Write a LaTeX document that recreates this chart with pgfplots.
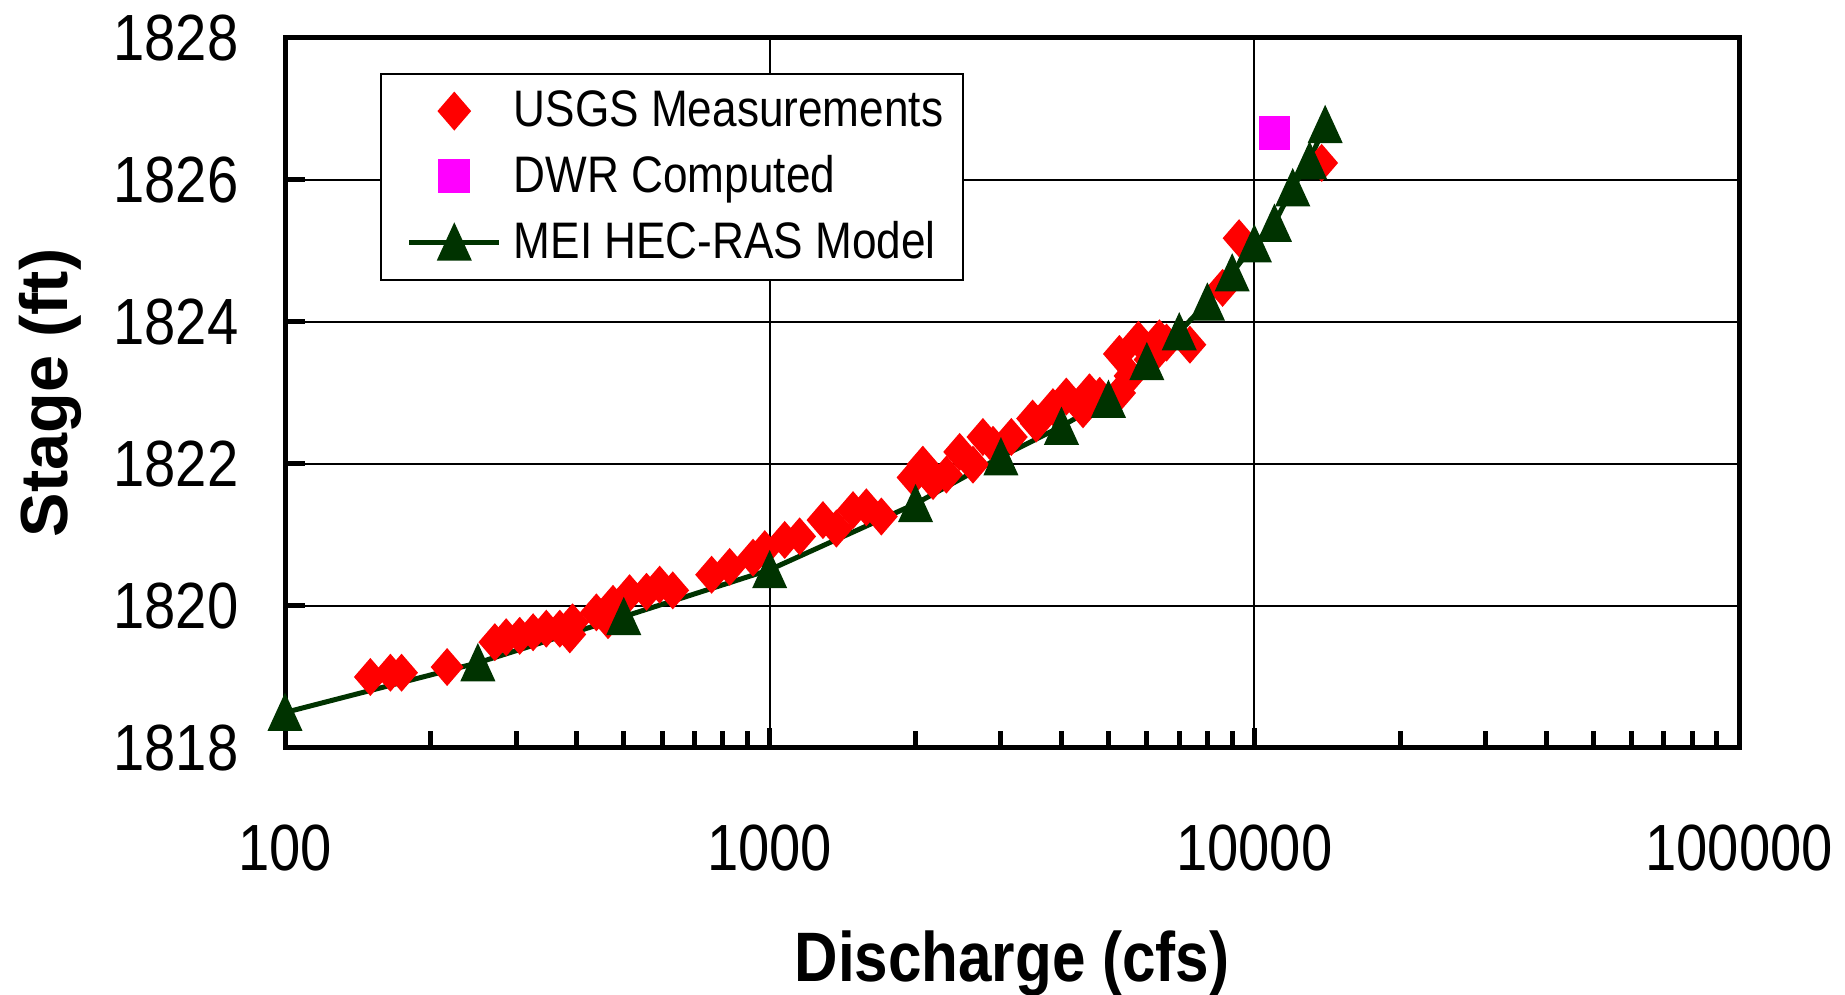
\documentclass[border=0pt]{standalone}
\usepackage{fontspec}
\setmainfont{Liberation Sans}[FakeStretch=0.86]
\newfontfamily\ylabfont{Liberation Sans}
\usepackage{pgfplots}
\pgfplotsset{compat=1.18}
\definecolor{dkgreen}{RGB}{0,51,0}
\definecolor{mag}{RGB}{255,0,255}
\newcommand\tickfont{\fontsize{19.6}{23}\selectfont}
\newcommand\legfont{\fontsize{15.4}{18}\selectfont}
\begin{document}
\begin{tikzpicture}
\path[use as bounding box] (-85.5pt,-74.1pt) rectangle (468pt,224.4pt);
\begin{axis}[
  at={(0,0)}, anchor=south west,
  scale only axis, width=436.2pt, height=213pt,
  xmode=log, log basis x=10,
  xmin=100, xmax=100000, ymin=1818, ymax=1828,
  xtick={100,1000,10000,100000}, xticklabels={100,1000,10000,100000},
  minor xtick={200,300,400,500,600,700,800,900,2000,3000,4000,5000,6000,7000,8000,9000,20000,30000,40000,50000,60000,70000,80000,90000},
  ytick={1818,1820,1822,1824,1826,1828}, yticklabels={1818,1820,1822,1824,1826,1828},
  tick pos=left,
  grid=major, major grid style={black, line width=0.6pt},
  axis line style={black, line width=1.5pt},
  tick align=inside, major tick length=6pt, minor tick length=5pt,
  every tick/.style={black, line width=1.5pt},
  xticklabel style={font=\tickfont, anchor=north, inner sep=0pt, yshift=-22.8pt},
  yticklabel style={font=\tickfont, anchor=east, inner sep=0pt, xshift=-13.8pt},
  xlabel={\bfseries\fontsize{21}{25}\selectfont Discharge (cfs)},
  xlabel style={at={([yshift=-70.2pt]axis description cs:0.5,0)}, anchor=base, inner sep=0pt},
  ylabel={\ylabfont\bfseries\fontsize{20}{24}\selectfont Stage (ft)},
  ylabel style={at={([xshift=-65.4pt]axis description cs:0,0.5)}, anchor=base, inner sep=0pt},
  clip=false,
  legend style={at={(0.0653,0.9507)}, anchor=north west, draw=black, line width=0.6pt, fill=white,
    inner xsep=6pt, inner ysep=5pt, row sep=7.1pt, column sep=3.6pt, font=\legfont,
    nodes={inner sep=0pt}},
  legend cell align=left,
  legend image code/.code={\path[draw=none,fill=none] (0pt,0pt) (2.5pt,0pt);
    \draw[mark repeat=2,mark phase=2] plot coordinates {(2.5pt,0pt) (16pt,0pt) (29.5pt,0pt)};},
]
\addplot[only marks, mark=diamond*, mark size=5.4pt, mark options={xscale=1.15, fill=red, draw=red}] coordinates {
(150,1819.00) (165,1819.06) (174,1819.06) (216,1819.14) (271,1819.49) (286,1819.56)
(305,1819.58) (325,1819.63) (346,1819.68) (369,1819.68) (387,1819.60) (392,1819.77)
(439,1819.91) (464,1819.80) (475,1820.03) (514,1820.18) (557,1820.20) (593,1820.30)
(631,1820.22) (759,1820.44) (827,1820.55) (924,1820.68) (977,1820.80) (1074,1820.93)
(1153,1820.98) (1288,1821.21) (1373,1821.09) (1486,1821.35) (1583,1821.39) (1700,1821.26)
(1976,1821.81) (2070,1821.99) (2173,1821.76) (2315,1821.85) (2466,1822.17) (2627,1821.99)
(2754,1822.38) (2890,1822.27) (3152,1822.38) (3487,1822.64) (3548,1822.57) (3842,1822.80)
(4093,1822.95) (4431,1822.77) (4570,1823.01) (4797,1822.96) (5266,1823.55) (5272,1823.00)
(5540,1823.24) (5766,1823.75) (6094,1823.47) (6370,1823.77) (6590,1823.71) (7364,1823.68)
(8600,1824.48) (9300,1825.18) (13770,1826.24)
};
\addlegendentry{USGS Measurements}
\addplot[only marks, mark=square*, mark size=4.5pt, mark options={yscale=1.07, fill=mag, draw=mag}] coordinates {
(11000,1826.66)
};
\addlegendentry{DWR Computed}
\addplot[color=dkgreen, line width=1.5pt, mark=triangle*, mark size=5.54pt, mark options={yshift=-1.75pt, yscale=1.26, fill=dkgreen, draw=dkgreen, solid, line width=0.6pt}] coordinates {
(100,1818.50) (250,1819.20) (500,1819.85) (1000,1820.51) (2000,1821.44) (3000,1822.10)
(4000,1822.53) (5000,1822.91) (6000,1823.44) (7000,1823.86) (8000,1824.28) (9000,1824.69)
(10000,1825.10) (11000,1825.39) (12000,1825.89) (13000,1826.27) (14000,1826.78)
};
\addlegendentry{MEI HEC-RAS Model}
\end{axis}
\end{tikzpicture}
\end{document}
